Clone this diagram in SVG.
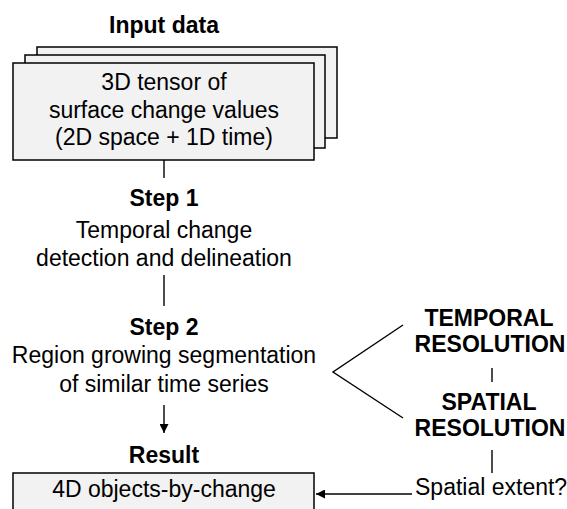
<svg xmlns="http://www.w3.org/2000/svg" width="567" height="509" viewBox="0 0 567 509">
<style>
text{font-family:"Liberation Sans",Arial,sans-serif;font-size:23px;fill:#000}
.b{font-weight:bold}
.c{text-anchor:middle}
.box{fill:#f2f2f2;stroke:#000;stroke-width:1.5}
.ln{stroke:#000;stroke-width:1.4;fill:none}
</style>
<defs>
<marker id="ah" viewBox="0 0 10 10" refX="10" refY="5" markerWidth="9" markerHeight="9" markerUnits="userSpaceOnUse" orient="auto">
<path d="M0,0 L10,5 L0,10 z" fill="#000"/>
</marker>
</defs>
<rect width="567" height="509" fill="#fff"/>
<g id="input">
<text class="b c" x="164" y="33">Input data</text>
<rect class="box" x="37" y="47" width="300" height="91"/>
<rect class="box" x="25" y="55" width="300" height="93"/>
<rect class="box" x="13" y="63" width="301" height="97"/>
<text class="c" x="164" y="90">3D tensor of</text>
<text class="c" x="164" y="118">surface change values</text>
<text class="c" x="164" y="145">(2D space + 1D time)</text>
</g>
<g id="step1">
<text class="b c" x="164" y="206">Step 1</text>
<text class="c" x="164" y="238">Temporal change</text>
<text class="c" x="164" y="266">detection and delineation</text>
</g>
<g id="step2">
<text class="b c" x="164" y="335">Step 2</text>
<text class="c" x="164" y="363">Region growing segmentation</text>
<text class="c" x="164" y="392">of similar time series</text>
</g>
<g id="result">
<text class="b c" x="164" y="463">Result</text>
<rect class="box" x="13" y="473" width="301" height="45"/>
<text class="c" x="164" y="497">4D objects-by-change</text>
</g>
<g id="temporal">
<text class="b c" x="489" y="326">TEMPORAL</text>
<text class="b c" x="490" y="352">RESOLUTION</text>
</g>
<g id="spatial">
<text class="b c" x="489" y="410">SPATIAL</text>
<text class="b c" x="490" y="436">RESOLUTION</text>
</g>
<g id="extent">
<text x="415" y="495">Spatial extent?</text>
</g>
<g id="connectors">
<line class="ln" x1="164" y1="160" x2="164" y2="178"/>
<line class="ln" x1="164" y1="275" x2="164" y2="306"/>
<line class="ln" x1="164" y1="405" x2="164" y2="433" marker-end="url(#ah)"/>
<polyline class="ln" points="403,325 333,372 403,418"/>
<line class="ln" x1="492" y1="368" x2="492" y2="382"/>
<line class="ln" x1="492" y1="450" x2="492" y2="473"/>
<line class="ln" x1="412" y1="494" x2="316" y2="494" marker-end="url(#ah)"/>
</g>
</svg>
